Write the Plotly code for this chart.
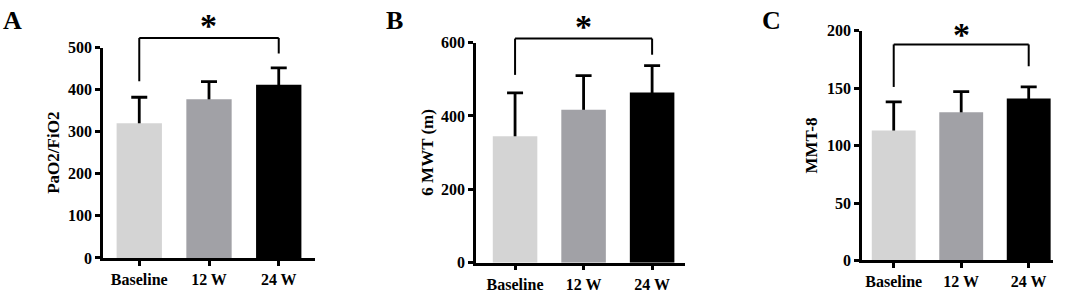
import plotly.graph_objects as go

W, H = 1065, 299

categories = ["Baseline", "12 W", "24 W"]
bar_colors = ["#d4d4d4", "#a1a1a6", "#000000"]

# Panel A: PaO2/FiO2
a_mean = [320, 377, 412]
a_sd = [62, 42, 40]
a_ticks = [0, 100, 200, 300, 400, 500]
# Panel B: 6 MWT (m)
b_mean = [345, 417, 464]
b_sd = [118, 93, 73]
b_ticks = [0, 200, 400, 600]
# Panel C: MMT-8
c_mean = [113, 129, 141]
c_sd = [25, 18, 10]
c_ticks = [0, 50, 100, 150, 200]

# significance brackets: (left leg bottom, bar height, right leg bottom)
a_bracket = [420, 523, 486]
b_bracket = [512, 611, 567]
c_bracket = [151, 188, 169]

panels = [
    dict(letter="A", title="PaO2/FiO2", mean=a_mean, sd=a_sd, ticks=a_ticks,
         yr=[0, 500], xr=[-0.52, 2.52], xpx=[103, 315], ypx=[265, 42],
         bracket=a_bracket, title_x=54, letter_x=12, star_y=12),
    dict(letter="B", title="6 MWT (m)", mean=b_mean, sd=b_sd, ticks=b_ticks,
         yr=[0, 600], xr=[-0.57, 2.48], xpx=[476, 685], ypx=[270, 36.7],
         bracket=b_bracket, title_x=428, letter_x=394, star_y=13),
    dict(letter="C", title="MMT-8", mean=c_mean, sd=c_sd, ticks=c_ticks,
         yr=[0, 200], xr=[-0.47, 2.36], xpx=[862, 1053], ypx=[267.7, 24],
         bracket=c_bracket, title_x=812, letter_x=771, star_y=21),
]

fig = go.Figure()
shapes = []
annotations = []
font_family = "Liberation Serif, Times New Roman, serif"
BAR_W = 0.65

for i, p in enumerate(panels):
    sfx = "" if i == 0 else str(i + 1)
    xd = [p["xpx"][0] / W, p["xpx"][1] / W]
    yd = [1 - p["ypx"][0] / H, 1 - p["ypx"][1] / H]
    xs = list(range(len(categories)))
    # error bars (drawn on a transparent bar trace, lower half hidden by the bars)
    fig.add_trace(go.Bar(
        x=xs, y=p["mean"], width=BAR_W,
        marker=dict(color="rgba(0,0,0,0)", line=dict(width=0)),
        error_y=dict(type="data", array=p["sd"], symmetric=True,
                     color="black", thickness=2.8, width=8),
        xaxis="x" + sfx, yaxis="y" + sfx, showlegend=False, hoverinfo="skip",
    ))
    fig.add_trace(go.Bar(
        x=xs, y=p["mean"], width=BAR_W,
        marker=dict(color=bar_colors, line=dict(width=0)),
        xaxis="x" + sfx, yaxis="y" + sfx, showlegend=False,
    ))
    axis_common = dict(showline=True, linecolor="black", linewidth=2.5,
                       ticks="outside", ticklen=5, tickwidth=2.5, tickcolor="black",
                       showgrid=False, zeroline=False,
                       tickfont=dict(family=font_family, size=16, color="black"))
    fig.update_layout(**{
        "xaxis" + sfx: dict(domain=xd, range=p["xr"], anchor="y" + sfx,
                            tickmode="array", tickvals=xs,
                            ticktext=["<b>" + c + "</b>" for c in categories],
                            **axis_common),
        "yaxis" + sfx: dict(domain=yd, range=p["yr"], anchor="x" + sfx,
                            tickmode="array", tickvals=p["ticks"],
                            ticktext=["<b>%d</b>" % t for t in p["ticks"]],
                            **axis_common),
    })

    # data -> paper conversion from the axis range/domain
    def px(v, p=p, xd=xd):
        return xd[0] + (v - p["xr"][0]) / (p["xr"][1] - p["xr"][0]) * (xd[1] - xd[0])

    def py(v, p=p, yd=yd):
        return yd[0] + (v - p["yr"][0]) / (p["yr"][1] - p["yr"][0]) * (yd[1] - yd[0])

    lb, top, rb = p["bracket"]
    xl, xr_ = px(0), px(2)
    for (x0, y0, x1, y1) in [(xl, py(lb), xl, py(top)), (xl, py(top), xr_, py(top)),
                             (xr_, py(top), xr_, py(rb))]:
        shapes.append(dict(type="line", xref="paper", yref="paper",
                           x0=x0, y0=y0, x1=x1, y1=y1,
                           line=dict(color="black", width=2)))
    annotations.append(dict(text="<b>*</b>", xref="paper", yref="paper",
                            x=(xl + xr_) / 2, y=1 - (p["star_y"] + 7) / H,
                            xanchor="center", yanchor="middle", showarrow=False,
                            font=dict(family=font_family, size=34, color="black")))
    annotations.append(dict(text="<b>" + p["letter"] + "</b>", xref="paper", yref="paper",
                            x=p["letter_x"] / W, y=1 - 13 / H,
                            xanchor="center", yanchor="middle", showarrow=False,
                            font=dict(family=font_family, size=26, color="black")))
    annotations.append(dict(text="<b>" + p["title"] + "</b>", xref="paper", yref="paper",
                            x=p["title_x"] / W, y=(yd[0] + yd[1]) / 2,
                            xanchor="center", yanchor="middle", showarrow=False,
                            textangle=-90,
                            font=dict(family=font_family, size=17, color="black")))

fig.update_layout(width=W, height=H, margin=dict(l=0, r=0, t=0, b=0),
                  plot_bgcolor="white", paper_bgcolor="white", barmode="overlay",
                  shapes=shapes, annotations=annotations)
fig.write_html("out.html", config={"displayModeBar": False},
               post_script="document.body.style.margin='0';document.body.style.overflow='hidden';")
